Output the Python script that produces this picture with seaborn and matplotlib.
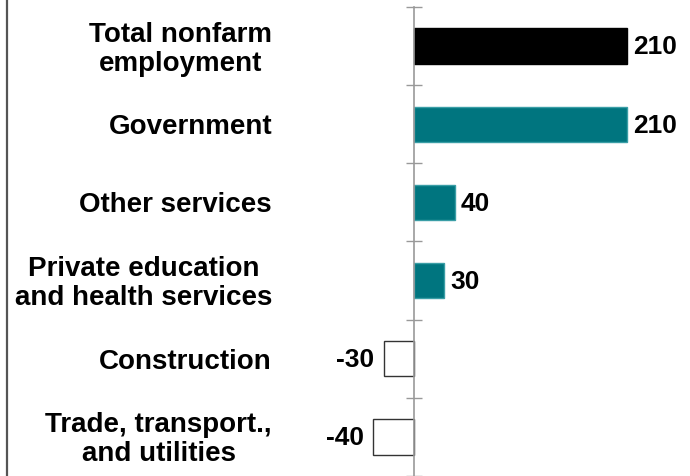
import matplotlib
matplotlib.use("Agg")
import matplotlib.pyplot as plt
import matplotlib.transforms as mtransforms
from matplotlib.lines import Line2D
import seaborn as sns
import pandas as pd

categories = ["Total nonfarm\nemployment", "Government", "Other services",
              "Private education\nand health services", "Construction",
              "Trade, transport.,\nand utilities"]
values = [210, 210, 40, 30, -30, -40]
value_labels = ["210", "210", "40", "30", "-30", "-40"]
fill_colors = ["#000000", "#00757F", "#00757F", "#00757F", "#FFFFFF", "#FFFFFF"]
edge_colors = ["#000000", "#3A9EA6", "#3A9EA6", "#3A9EA6", "#333333", "#333333"]

sns.set_theme(style="white")
plt.rcParams["font.family"] = ["Liberation Sans", "DejaVu Sans"]

df = pd.DataFrame({"category": categories, "value": values})

fig = plt.figure(figsize=(6.9, 4.76), dpi=100)
ax = fig.add_axes([0, 0, 1, 1])
ax.set_facecolor("white")

sns.barplot(data=df, x="value", y="category", hue="category", palette=fill_colors,
            order=categories, hue_order=categories, dodge=False, legend=False,
            orient="h", width=0.45, saturation=1, ax=ax)

for patch, ec in zip(ax.patches, edge_colors):
    patch.set_edgecolor(ec)
    patch.set_linewidth(1.0)

ax.set_xlim(-407.5, 271.7)
ax.set_ylim(5.437, -0.589)

for s in ["top", "right", "bottom"]:
    ax.spines[s].set_visible(False)
ax.spines["left"].set_position(("data", 0))
ax.spines["left"].set_bounds(-0.5, 5.5)
ax.spines["left"].set_color("#999999")
ax.spines["left"].set_linewidth(1.2)

ax.set_xticks([])
ax.set_yticks([i - 0.5 for i in range(len(categories) + 1)])
ax.set_yticklabels([])
ax.tick_params(axis="y", direction="inout", length=12, width=1, color="#999999", left=True)
ax.set_xlabel("")
ax.set_ylabel("")

# category labels
trans = mtransforms.blended_transform_factory(ax.transAxes, ax.transData)
for i, cat in enumerate(categories):
    ax.annotate(cat, xy=(272 / 690, i), xycoords=trans, xytext=(0, -2.2),
                textcoords="offset points", ha="right", va="center",
                multialignment="center", fontsize=20, fontweight="bold", color="black",
                linespacing=1.15)

# value labels
for i, (v, lab) in enumerate(zip(values, value_labels)):
    if v >= 0:
        ax.annotate(lab, xy=(v, i), xytext=(4, -1), textcoords="offset points",
                    ha="left", va="center", fontsize=19, fontweight="bold", color="black")
    else:
        ax.annotate(lab, xy=(v, i), xytext=(-7, -1), textcoords="offset points",
                    ha="right", va="center", fontsize=19, fontweight="bold", color="black")

# left border line
fig.add_artist(Line2D([7 / 690, 7 / 690], [0, 1], transform=fig.transFigure,
                      color="#555555", linewidth=1.6))

fig.savefig("out.png", dpi=100)
